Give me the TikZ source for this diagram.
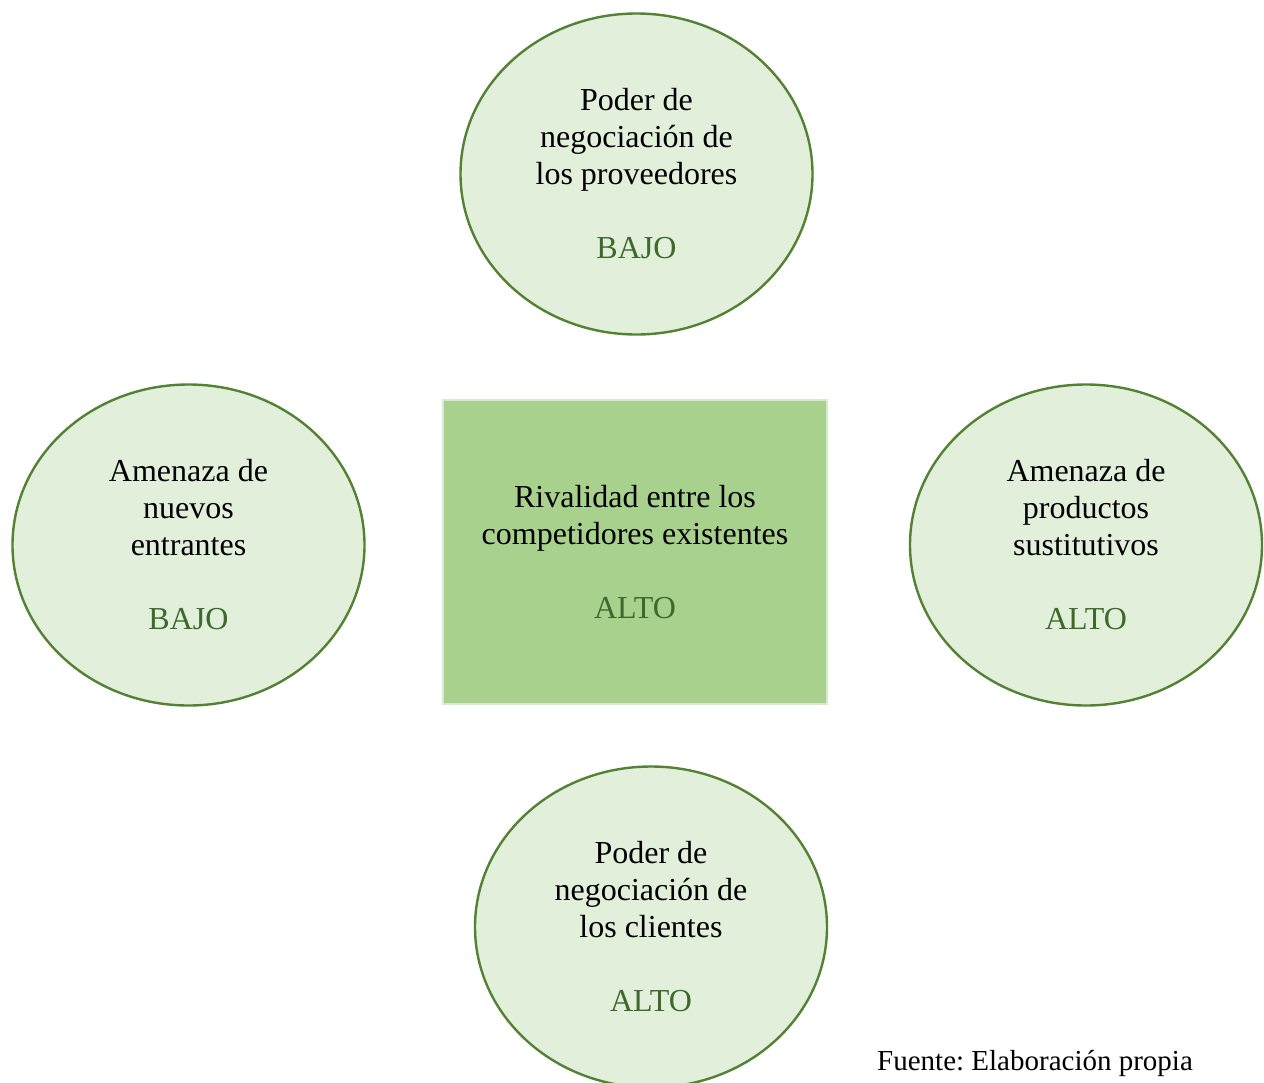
\documentclass[tikz,border=0pt]{standalone}
\usepackage{fontspec}
\setmainfont{Liberation Serif}
\usetikzlibrary{shapes.geometric}
\definecolor{ellfill}{HTML}{E2EFDA}
\definecolor{ellline}{HTML}{548235}
\definecolor{rectfill}{HTML}{A9D18E}
\definecolor{rectline}{HTML}{D9EBCF}
\definecolor{valtext}{HTML}{3C6A2B}
\frenchspacing
\tikzset{
  txt/.style={font=\fontsize{32}{37}\selectfont, align=center, text=black},
  force/.style={txt, ellipse, draw=ellline, line width=2.4pt, fill=ellfill,
    minimum width=352, minimum height=321, inner sep=0pt},
  central/.style={txt, rectangle, draw=rectline, line width=1.2pt, fill=rectfill,
    minimum width=384, minimum height=304, inner sep=0pt},
  note/.style={font=\fontsize{29}{34}\selectfont, text=black, inner sep=0pt}
}
\newcommand{\val}[1]{\textcolor{valtext}{#1}}
\begin{document}
\begin{tikzpicture}[x=1pt,y=-1pt]
\useasboundingbox (0,0) rectangle (1264,1082);
\node[force] (prov) at (636.5,174) {Poder de\\negociación de\\los proveedores\\[37pt]\val{BAJO}};
\node[force] (entr) at (188.5,545) {Amenaza de\\nuevos\\entrantes\\[37pt]\val{BAJO}};
\node[force] (sust) at (1086,545) {Amenaza de\\productos\\sustitutivos\\[37pt]\val{ALTO}};
\node[force] (clie) at (651,927) {Poder de\\negociación de\\los clientes\\[37pt]\val{ALTO}};
\node[central] (riv) at (635,552) {Rivalidad entre los\\competidores existentes\\[37pt]\val{ALTO}};
\node[note, anchor=west] (fuente) at (877,1063) {Fuente: Elaboración propia};
\end{tikzpicture}
\end{document}
